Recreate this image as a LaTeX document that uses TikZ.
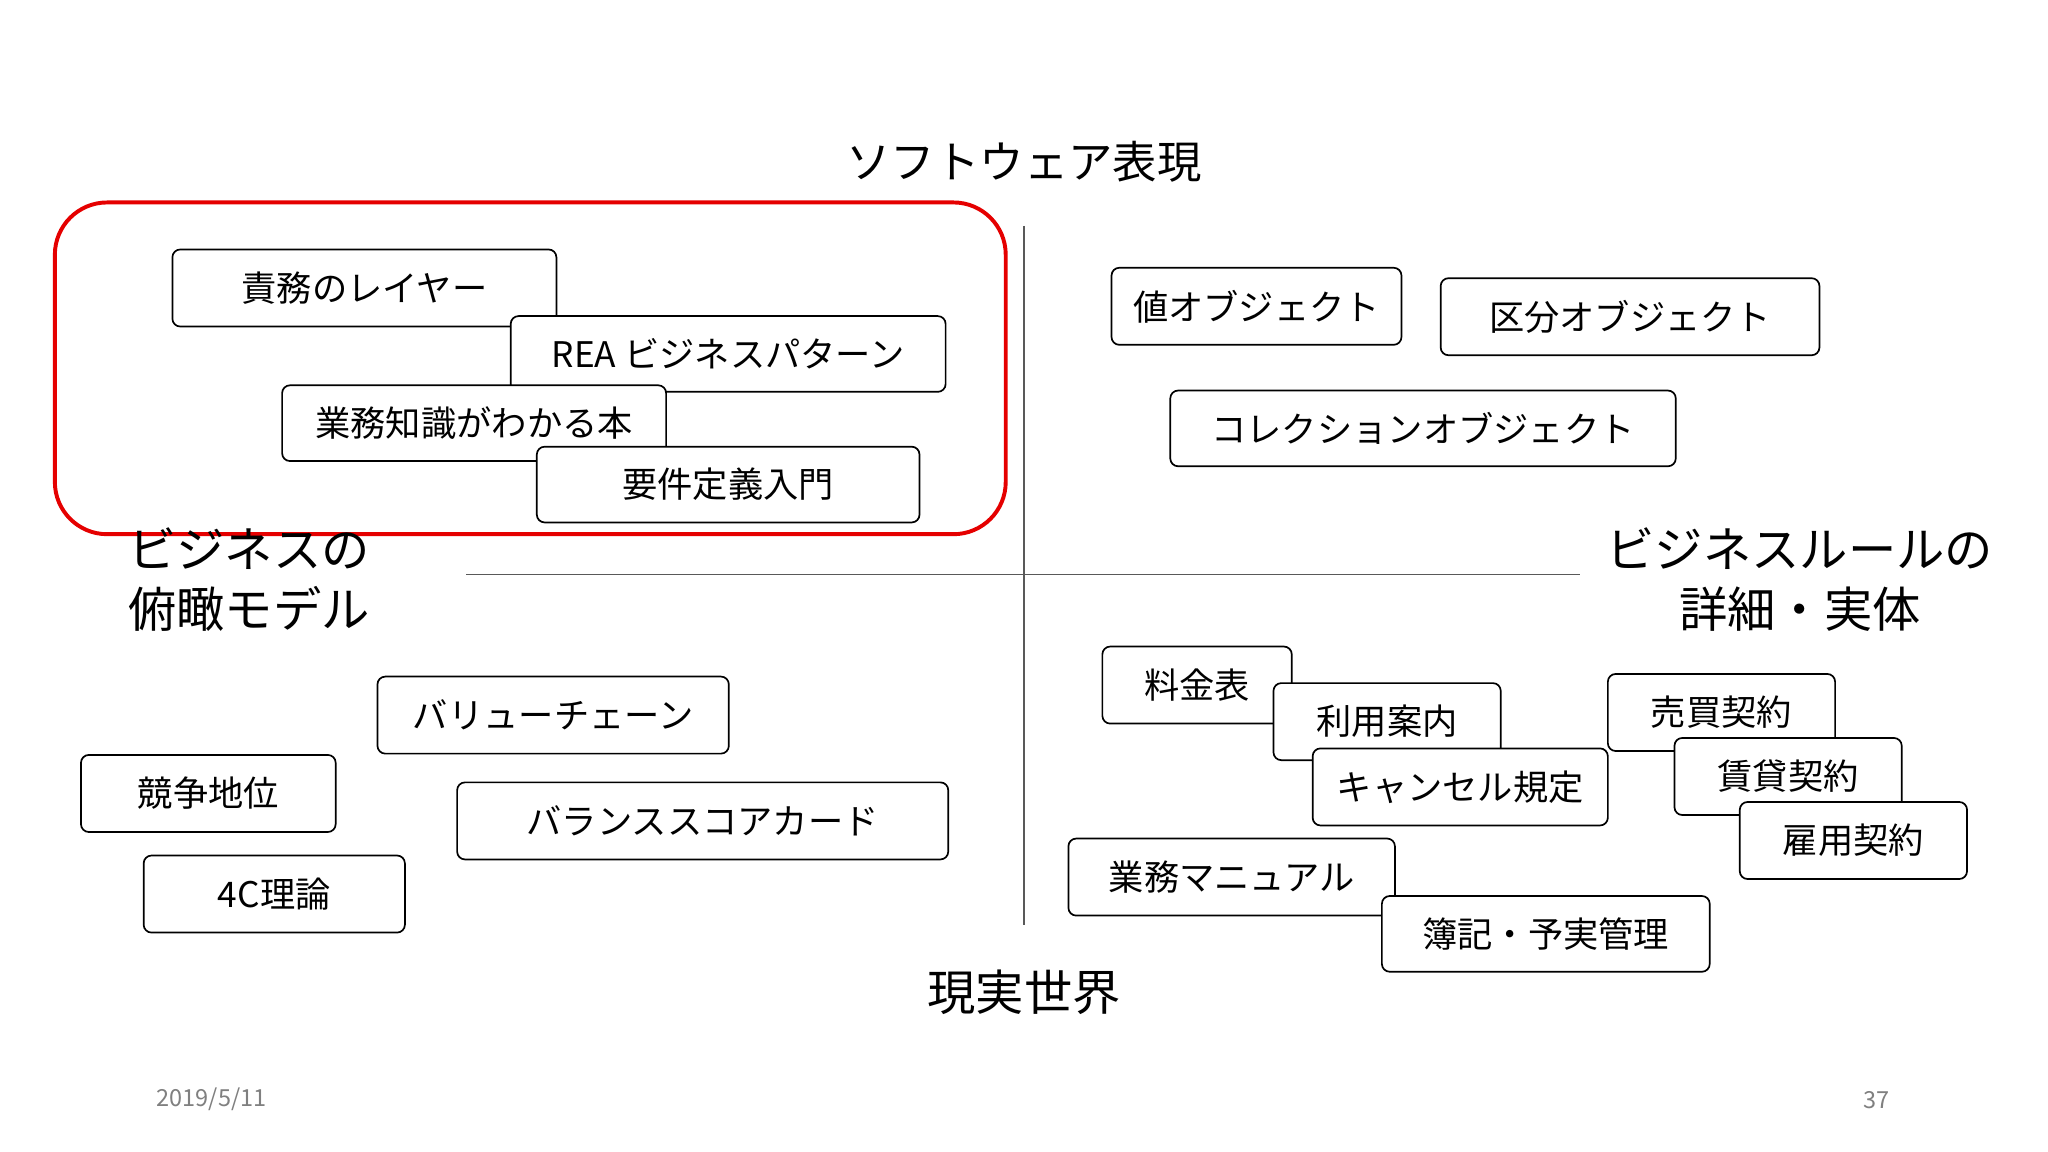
\documentclass[tikz,border=0pt]{standalone}
\usepackage{fontspec}
\setmainfont{Noto Sans CJK JP}
\begin{document}
\begin{tikzpicture}[x=1pt,y=-1pt,
 bx/.style={draw=black,fill=white,rounded corners=6pt,line width=1.3pt,inner sep=0pt,font=\fontsize{27}{30}\selectfont},
 ttl/.style={font=\fontsize{37}{46}\selectfont,align=center,inner sep=0pt}]
\useasboundingbox (0,0) rectangle (1568,882);
\fill[white] (0,0) rectangle (1568,882);
% axes
\coordinate (vt) at (784,173); \coordinate (vb) at (784,708);
\coordinate (hl) at (357,440); \coordinate (hr) at (1210,440);
\draw[line width=1pt,gray!70!black] (vt) -- (vb);
\draw[line width=1pt,gray!70!black] (hl) -- (hr);
\newcommand\bxat[6]{\node[bx,minimum width=#4-#2,minimum height=#5-#3] (#1) at ({(#2+#4)/2},{(#3+#5)/2}) {#6};}
% top-left
\bxat{a1}{132}{191}{426}{250}{責務のレイヤー}
\bxat{a2}{391}{242}{724}{300}{REA ビジネスパターン}
\bxat{a3}{216}{295}{510}{353}{業務知識がわかる本}
\bxat{a4}{411}{342}{704}{400}{要件定義入門}
\draw[red!90!black,line width=3pt,rounded corners=40pt] (42,155) rectangle (770,409);
% top-right
\bxat{b1}{851}{205}{1073}{264}{値オブジェクト}
\bxat{b2}{1103}{213}{1393}{272}{区分オブジェクト}
\bxat{b3}{896}{299}{1283}{357}{コレクションオブジェクト}
% bottom-left
\bxat{c1}{289}{518}{558}{577}{バリューチェーン}
\bxat{c2}{62}{578}{257}{637}{競争地位}
\bxat{c3}{350}{599}{726}{658}{バランススコアカード}
\bxat{c4}{110}{655}{310}{714}{4C理論}
% bottom-right
\bxat{d1}{844}{495}{989}{554}{料金表}
\bxat{d2}{975}{523}{1149}{582}{利用案内}
\bxat{d3}{1005}{573}{1231}{632}{キャンセル規定}
\bxat{d4}{818}{642}{1068}{701}{業務マニュアル}
\bxat{d5}{1058}{686}{1309}{744}{簿記・予実管理}
\bxat{e1}{1231}{516}{1405}{575}{売買契約}
\bxat{e2}{1282}{565}{1456}{624}{賃貸契約}
\bxat{e3}{1332}{614}{1506}{673}{雇用契約}
% titles
\node[ttl,font=\fontsize{34}{40}\selectfont] (t1) at (784,124) {ソフトウェア表現};
\node[ttl] (t2) at (784,760) {現実世界};
\node[ttl,align=left,anchor=west] (t3) at (98,444) {ビジネスの\\俯瞰モデル};
\node[ttl] (t4) at (1378,444) {ビジネスルールの\\詳細・実体};
\node[font=\fontsize{18}{20}\selectfont,text=gray] (dt) at (162,842) {2019/5/11};
\node[font=\fontsize{18}{20}\selectfont,text=gray] (pg) at (1437,842) {37};
\end{tikzpicture}
\end{document}
